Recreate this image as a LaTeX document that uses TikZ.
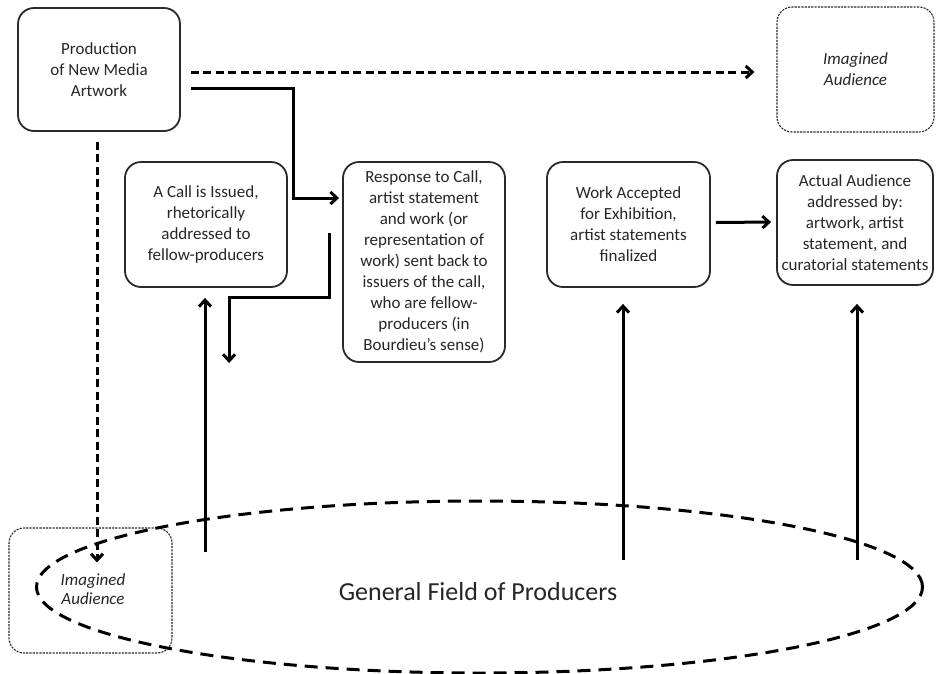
\documentclass[tikz,border=0pt]{standalone}
\usepackage{fontspec}
\setmainfont{Carlito}
\usetikzlibrary{arrows.meta}
\definecolor{txt}{HTML}{262626}
\definecolor{brd}{HTML}{2A2A2A}
\tikzset{
  boxstyle/.style={draw=brd, line width=1.8pt, rounded corners=16pt, align=center,
     text=txt, font=\fontsize{17}{21}\selectfont, inner sep=0pt},
  imagbox/.style={draw=brd, line width=1.1pt, dash pattern=on 2.2pt off 1.1pt, rounded corners=15pt,
     align=center, text=txt, font=\fontsize{17}{21}\selectfont\itshape},
  arr/.style={line width=3pt, -{Straight Barb[length=6.5pt,width=12pt,line width=3pt]}},
  dasharr/.style={arr, dash pattern=on 8pt off 4.5pt},
}
\begin{document}
\begin{tikzpicture}[x=1pt,y=-1pt]
\useasboundingbox (0,0) rectangle (936,673);
% nodes
\node[boxstyle, minimum width=162pt, minimum height=123pt] (prod) at (99,69.5) {Production\\of New Media\\Artwork};
\node[imagbox, minimum width=157pt, minimum height=125pt] (imtr) at (855.5,69.5) {Imagined\\Audience};
\node[boxstyle, minimum width=162pt, minimum height=125pt] (call) at (206,224.5) {A Call is Issued,\\rhetorically\\addressed to\\fellow-producers};
\node[boxstyle, minimum width=162pt, minimum height=200pt] (resp) at (424,262) {Response to Call,\\artist statement\\and work (or\\representation of\\work) sent back to\\issuers of the call,\\who are fellow-\\producers (in\\Bourdieu’s sense)};
\node[boxstyle, minimum width=163pt, minimum height=125pt] (work) at (628.5,224.5) {Work Accepted\\for Exhibition,\\artist statements\\finalized};
\node[boxstyle, minimum width=156pt, minimum height=125pt] (act) at (855,222.5) {Actual Audience\\addressed by:\\artwork, artist\\statement, and\\curatorial statements};
\node[imagbox, minimum width=163pt, minimum height=125pt] (imbl) at (90.5,590.5) {};
\node[text=txt, font=\fontsize{17}{19}\selectfont\itshape, align=center] (imbltxt) at (93,589) {Imagined\\Audience};
% field ellipse
\draw[line width=3pt, dash pattern=on 13pt off 8pt] (479.5,587) ellipse [x radius=443pt, y radius=86pt];
\node[text=txt, font=\fontsize{26}{30}\selectfont] (field) at (478,592) {General Field of Producers};
% connectors
\draw[dasharr] ([xshift=10pt,yshift=-2.5pt]prod.east) -- ([xshift=-22pt,yshift=-2.5pt]imtr.west);
\draw[arr] ([xshift=10pt,yshift=-19pt]prod.east) -- ++(103,0) |- ([xshift=-3pt,yshift=64pt]resp.west);
\draw[arr] ([xshift=-13pt,yshift=29pt]resp.west) -- ++(0,64) -- ++(-100,0) -- ++(0,66);
\coordinate (u1) at (205,552);
\draw[arr, shorten >=10pt] (u1) -- (u1 |- call.south);
\draw[arr] ([xshift=5pt,yshift=2pt]work.east) -- ([xshift=-5pt,yshift=0.5pt]act.west);
\coordinate (u2) at (623,560);
\draw[arr, shorten >=16pt] (u2) -- (u2 |- work.south);
\coordinate (u3) at (857,560);
\draw[arr, shorten >=18pt] (u3) -- (u3 |- act.south);
\draw[dasharr] ([xshift=-2pt,yshift=-10pt]prod.south) -- ([xshift=-2pt]prod.south |- imbl.north) -- ++(0,35);
\end{tikzpicture}
\end{document}
